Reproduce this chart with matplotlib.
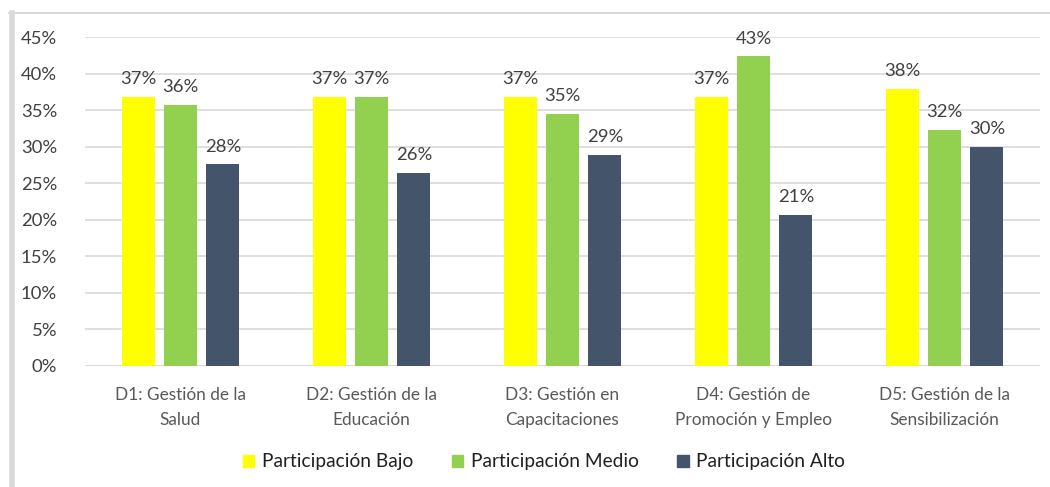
import matplotlib
matplotlib.use("Agg")
import matplotlib.pyplot as plt
import numpy as np
from matplotlib.lines import Line2D

categories = ["D1: Gestión de la\nSalud", "D2: Gestión de la\nEducación", "D3: Gestión en\nCapacitaciones",
              "D4: Gestión de\nPromoción y Empleo", "D5: Gestión de la\nSensibilización"]
bajo = [36.8, 36.8, 36.8, 36.8, 37.9]
medio = [35.7, 36.8, 34.5, 42.4, 32.3]
alto = [27.6, 26.4, 28.9, 20.7, 30.0]
bajo_lbl = ["37%", "37%", "37%", "37%", "38%"]
medio_lbl = ["36%", "37%", "35%", "43%", "32%"]
alto_lbl = ["28%", "26%", "29%", "21%", "30%"]
series_names = ["Participación Bajo", "Participación Medio", "Participación Alto"]
colors = ["#FFFF00", "#92D050", "#44546A"]
yticks = [0, 5, 10, 15, 20, 25, 30, 35, 40, 45]

plt.rcParams['font.family'] = ['Lato', 'DejaVu Sans']
txt = "#404040"

fig = plt.figure(figsize=(10.5, 4.87), dpi=100)
ax = fig.add_axes([85/1050, 1-366/487, (1040-85)/1050, (366-37)/487])

x = np.arange(len(categories))
w = 0.173
off = 0.222
for vals, lbls, c, k in zip([bajo, medio, alto], [bajo_lbl, medio_lbl, alto_lbl], colors, [-1, 0, 1]):
    bars = ax.bar(x + k*off, vals, w, color=c, zorder=3)
    for b, l in zip(bars, lbls):
        ax.text(b.get_x() + b.get_width()/2, b.get_height() + 1.3, l, ha='center', va='bottom',
                fontsize=13.3, color=txt)

ax.set_xlim(-0.5, 4.5)
ax.set_ylim(0, 45)
ax.set_yticks(yticks)
ax.set_yticklabels([f"{t}%" for t in yticks], fontsize=13.3, color=txt)
ax.set_xticks(x)
ax.set_xticklabels(categories, fontsize=12.4, color="#595959", linespacing=1.72)
ax.tick_params(axis='both', length=0)
ax.tick_params(axis='y', pad=20)
ax.tick_params(axis='x', pad=15)
ax.grid(axis='y', color="#D9D9D9", linewidth=1.2, zorder=0)
for s in ax.spines.values():
    s.set_visible(False)
ax.axhline(0, color="#D9D9D9", linewidth=1.2, zorder=2)

handles = [plt.Rectangle((0, 0), 1, 1, color=c) for c in colors]
fig.legend(handles, series_names, loc='center', bbox_to_anchor=(544/1050, 1-462/487), ncol=3,
           frameon=False, fontsize=13.8, handlelength=0.6, handleheight=0.6, columnspacing=2.0,
           handletextpad=0.4, labelcolor="#202020")

# outer frame lines (top and left)
fig.add_artist(Line2D([9/1050, 1.0], [1-13/487, 1-13/487], transform=fig.transFigure, color="#D0D0D0", linewidth=1.2))
fig.add_artist(Line2D([11.5/1050, 11.5/1050], [0, 1-13/487], transform=fig.transFigure, color="#D9D9D9", linewidth=4))

fig.savefig("out.png", dpi=100)
